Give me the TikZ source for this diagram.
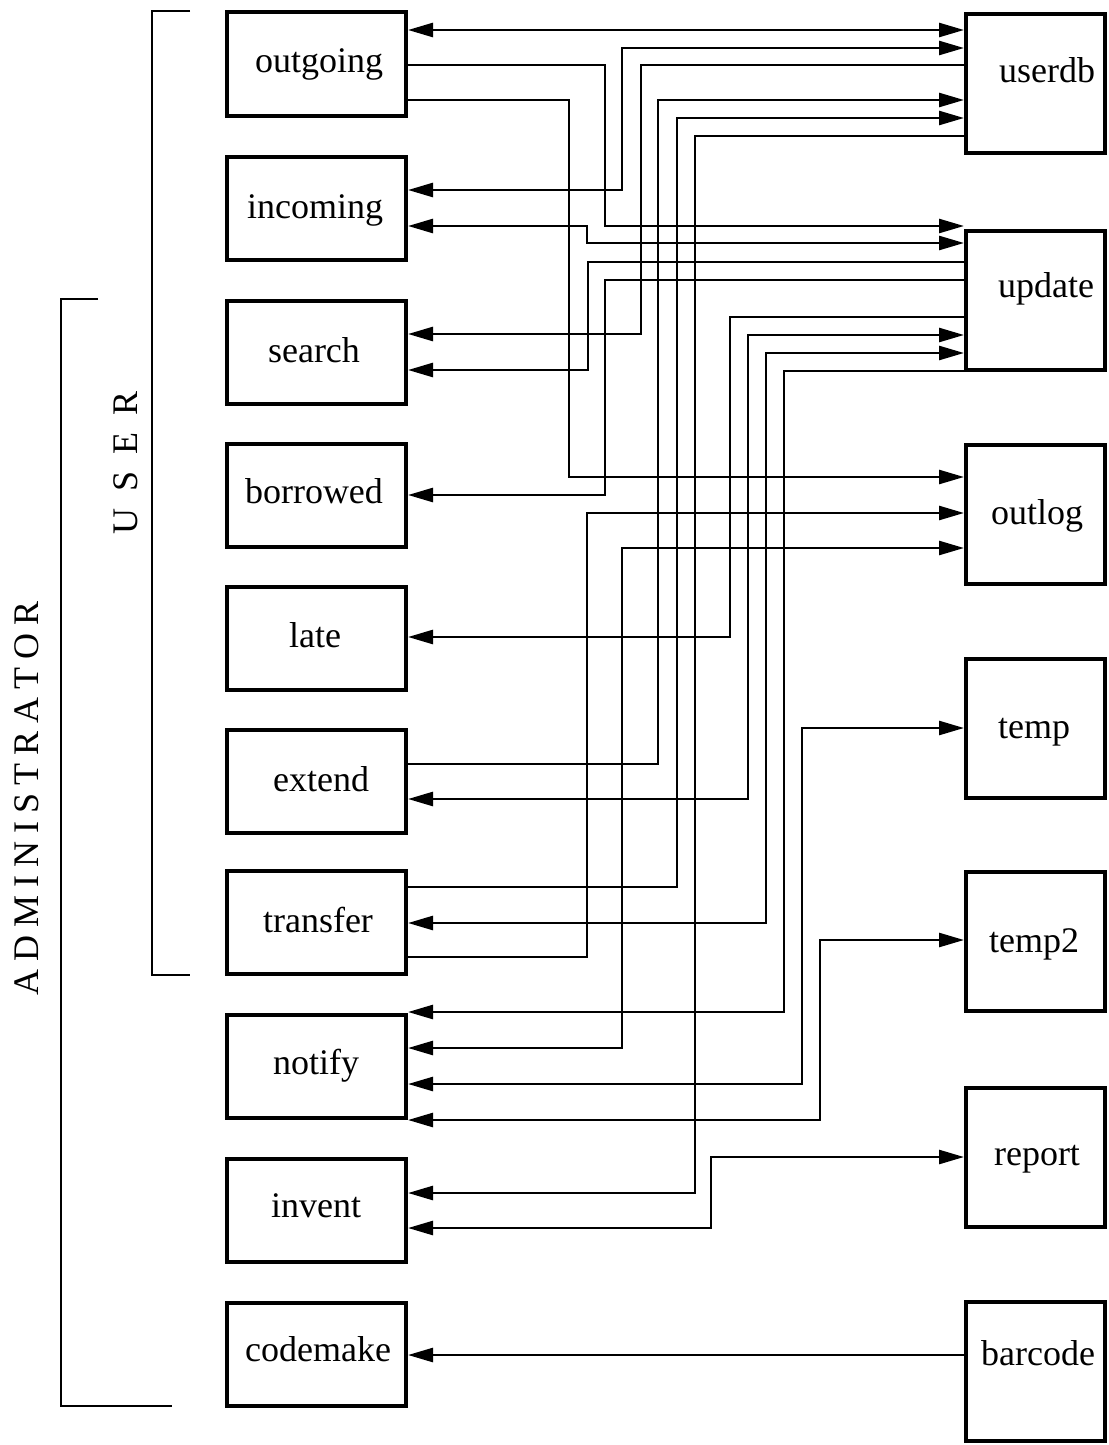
\documentclass[tikz,border=0pt]{standalone}
\usepackage{fontspec}
\setmainfont{Liberation Serif}
\usetikzlibrary{arrows.meta}
\begin{document}
\begin{tikzpicture}[x=1pt,y=-1pt,
  lbox/.style={draw, line width=4pt, minimum width=179pt, minimum height=103pt, inner sep=0pt},
  rbox/.style={draw, line width=4pt, minimum width=139pt, minimum height=139pt, inner sep=0pt},
  lbl/.style={anchor=base, inner sep=0pt, font=\fontsize{36}{40}\selectfont},
  side/.style={inner sep=0pt, rotate=90, font=\fontsize{36}{40}\selectfont},
  conn/.style={line width=2.6pt},
  brk/.style={line width=2.4pt},
  >={Triangle[length=25pt,width=14pt]}]
\useasboundingbox (0,0) rectangle (1108,1445);
\fill[white] (0,0) rectangle (1108,1445);

% left boxes
\node[lbox] (outgoing) at (316.5,64) {};
\node[lbox] (incoming) at (316.5,208.5) {};
\node[lbox] (search)   at (316.5,352.5) {};
\node[lbox] (borrowed) at (316.5,495) {};
\node[lbox] (late)     at (316.5,638) {};
\node[lbox] (extend)   at (316.5,781.5) {};
\node[lbox] (transfer) at (316.5,922.5) {};
\node[lbox] (notify)   at (316.5,1066) {};
\node[lbox] (invent)   at (316.5,1210.5) {};
\node[lbox] (codemake) at (316.5,1354) {};

\node[lbl] (outgoingT) at (319,72) {outgoing};
\node[lbl] (incomingT) at (315,218) {incoming};
\node[lbl] (searchT)   at (314,362) {search};
\node[lbl] (borrowedT) at (314,503) {borrowed};
\node[lbl] (lateT)     at (315,647) {late};
\node[lbl] (extendT)   at (321,791) {extend};
\node[lbl] (transferT) at (318,932) {transfer};
\node[lbl] (notifyT)   at (316,1074) {notify};
\node[lbl] (inventT)   at (316,1217) {invent};
\node[lbl] (codemakeT) at (318,1361) {codemake};

% right boxes
\node[rbox] (userdb)  at (1035.5,83.5) {};
\node[rbox] (update)  at (1035.5,300) {};
\node[rbox] (outlog)  at (1035.5,514) {};
\node[rbox] (temp)    at (1035.5,728.5) {};
\node[rbox] (temptwo) at (1035.5,941.5) {};
\node[rbox] (report)  at (1035.5,1157) {};
\node[rbox] (barcode) at (1035.5,1371.5) {};

\node[lbl] (userdbT)  at (1047,82) {userdb};
\node[lbl] (updateT)  at (1046,297) {update};
\node[lbl] (outlogT)  at (1037,524) {outlog};
\node[lbl] (tempT)    at (1034,738) {temp};
\node[lbl] (temptwoT) at (1034,952) {temp2};
\node[lbl] (reportT)  at (1037,1165) {report};
\node[lbl] (barcodeT) at (1038,1365) {barcode};

% brackets
\draw[brk] (190,11) -- (152,11) -- (152,975) -- (190,975);
\draw[brk] (98,299) -- (61,299) -- (61,1406) -- (172,1406);
\node[side] (userlbl) at (126,463) {U\hspace{17pt}S\hspace{17pt}E\hspace{17pt}R};
\node[side] (adminlbl) at (27,798) {A\hspace{8pt}D\hspace{8pt}M\hspace{8pt}I\hspace{8pt}N\hspace{8pt}I\hspace{8pt}S\hspace{8pt}T\hspace{8pt}R\hspace{8pt}A\hspace{8pt}T\hspace{8pt}O\hspace{8pt}R};

% connectors
\draw[conn,<->] (outgoing.east |- 0,30) -- (userdb.west |- 0,30);
\draw[conn,<->] (incoming.east |- 0,190) -| (622,48) -- (userdb.west |- 0,48);
\draw[conn,->] (outgoing.east |- 0,65) -| (605,226) -- (update.west |- 0,226);
\draw[conn,->] (userdb.west |- 0,65) -| (641,334) -- (search.east |- 0,334);
\draw[conn,->] (outgoing.east |- 0,100) -| (569,477) -- (outlog.west |- 0,477);
\draw[conn,->] (extend.east |- 0,764) -| (658,100) -- (userdb.west |- 0,100);
\draw[conn,->] (transfer.east |- 0,887) -| (677,118) -- (userdb.west |- 0,118);
\draw[conn,->] (userdb.west |- 0,136) -| (695,1193) -- (invent.east |- 0,1193);
\draw[conn,<->] (incoming.east |- 0,226) -| (587,243) -- (update.west |- 0,243);
\draw[conn,->] (update.west |- 0,262) -| (588,370) -- (search.east |- 0,370);
\draw[conn,->] (update.west |- 0,280) -| (605,495) -- (borrowed.east |- 0,495);
\draw[conn,->] (update.west |- 0,317) -| (730,637) -- (late.east |- 0,637);
\draw[conn,<->] (extend.east |- 0,799) -| (748,335) -- (update.west |- 0,335);
\draw[conn,<->] (transfer.east |- 0,923) -| (766,353) -- (update.west |- 0,353);
\draw[conn,->] (update.west |- 0,371) -| (784,1012) -- (notify.east |- 0,1012);
\draw[conn,->] (transfer.east |- 0,957) -| (587,513) -- (outlog.west |- 0,513);
\draw[conn,<->] (outlog.west |- 0,548) -| (622,1048) -- (notify.east |- 0,1048);
\draw[conn,<->] (notify.east |- 0,1084) -| (802,728) -- (temp.west |- 0,728);
\draw[conn,<->] (notify.east |- 0,1120) -| (820,940) -- (temptwo.west |- 0,940);
\draw[conn,<->] (invent.east |- 0,1228) -| (711,1157) -- (report.west |- 0,1157);
\draw[conn,->] (barcode.west |- 0,1355) -- (codemake.east |- 0,1355);
\end{tikzpicture}
\end{document}
